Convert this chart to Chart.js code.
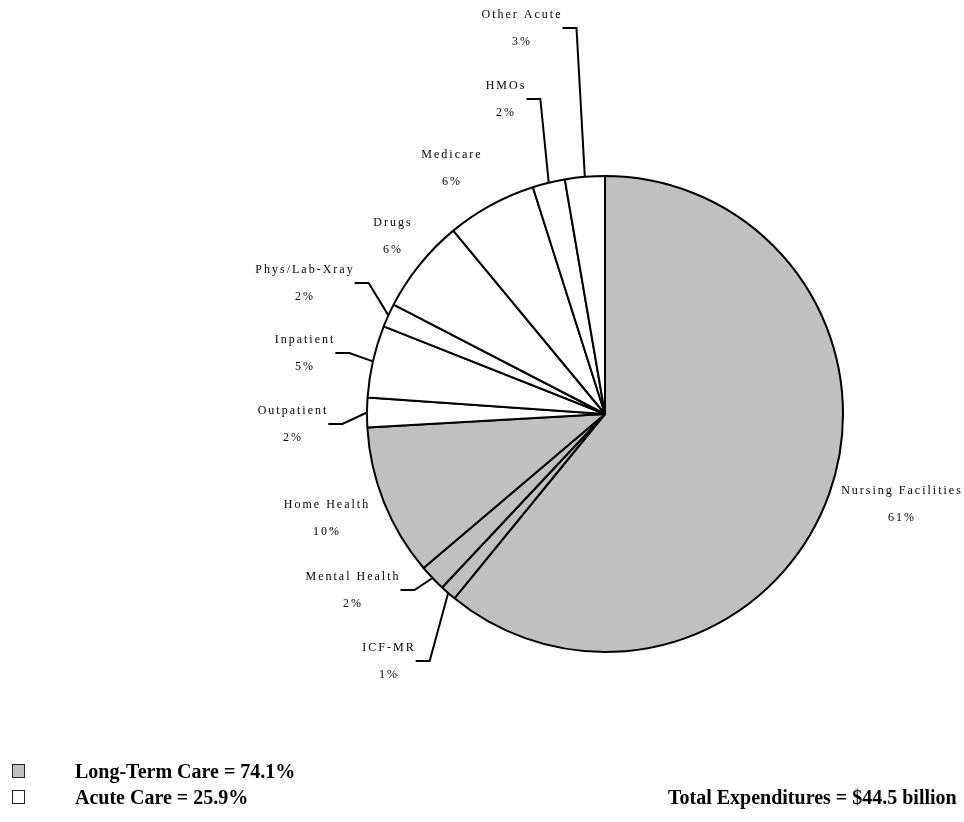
<!DOCTYPE html>
<html>
<head>
<meta charset="utf-8">
<title>Medicaid Expenditures</title>
<script src="https://cdn.jsdelivr.net/npm/chart.js@4.4.0/dist/chart.umd.min.js"></script>
<style>
  html, body { margin: 0; padding: 0; background: #fff; }
  #wrap { position: relative; width: 964px; height: 822px; }
  #pie { position: absolute; left: 0; top: 0; }
  .key { position: absolute; font: bold 20px "Liberation Serif", "Times New Roman", serif; line-height: 22px; color: #000; white-space: nowrap; }
  .swatch { position: absolute; width: 11px; height: 12px; border: 1.5px solid #222; }
</style>
</head>
<body>
<div id="wrap">
  <canvas id="pie" width="964" height="822"></canvas>
</div>
<script>
// slices, clockwise from 12 o'clock
const categories = ['Nursing Facilities', 'ICF-MR', 'Mental Health', 'Home Health', 'Outpatient',
  'Inpatient', 'Phys/Lab-Xray', 'Drugs', 'Medicare', 'HMOs', 'Other Acute'];
const shares = [60.9, 1.1, 1.8, 10.3, 2.0, 4.9, 1.6, 6.4, 6.1, 2.2, 2.7];
const careGroup = ['ltc', 'ltc', 'ltc', 'ltc', 'acute', 'acute', 'acute', 'acute', 'acute', 'acute', 'acute'];

const groupNames = ['Long-Term Care', 'Acute Care'];
const groupShares = [74.1, 25.9];
const totalBillions = 44.5;

// layout only: label centre relative to the pie centre, and whether it gets a leader line
const labelSpots = [[297, 77], [-216, 234], [-252, 163], [-278, 91], [-312, -3], [-300, -74],
  [-300, -144], [-212, -191], [-153, -259], [-99, -328], [-83, -399]];
const hasLeader = [false, true, true, false, true, true, true, false, false, true, true];

const groupFill = { ltc: '#c0c0c0', acute: '#ffffff' };

const sliceLabels = {
  id: 'sliceLabels',
  afterDatasetsDraw(chart) {
    const ctx = chart.ctx;
    const arcs = chart.getDatasetMeta(0).data;
    ctx.save();
    ctx.font = '12px "Liberation Serif", "Times New Roman", serif';
    if ('letterSpacing' in ctx) ctx.letterSpacing = '2px';
    ctx.fillStyle = '#000';
    ctx.strokeStyle = '#000';
    ctx.lineWidth = 2;
    ctx.textAlign = 'center';
    ctx.textBaseline = 'middle';
    arcs.forEach((arc, i) => {
      const p = arc.getProps(['x', 'y', 'startAngle', 'endAngle', 'outerRadius']);
      const tx = p.x + labelSpots[i][0];
      const ty = p.y + labelSpots[i][1];
      ctx.fillText(categories[i], tx, ty);
      ctx.fillText(Math.round(shares[i]) + '%', tx, ty + 27);
      if (hasLeader[i]) {
        const mid = (p.startAngle + p.endAngle) / 2;
        const ax = p.x + Math.cos(mid) * p.outerRadius;
        const ay = p.y + Math.sin(mid) * p.outerRadius;
        const right = tx + ctx.measureText(categories[i]).width / 2;
        ctx.beginPath();
        ctx.moveTo(right, ty + 13);
        ctx.lineTo(right + 14, ty + 13);
        ctx.lineTo(ax, ay);
        ctx.stroke();
      }
    });
    ctx.restore();
  }
};

new Chart(document.getElementById('pie'), {
  type: 'pie',
  data: {
    labels: categories,
    datasets: [{
      data: shares,
      backgroundColor: careGroup.map(g => groupFill[g]),
      borderColor: '#000',
      borderWidth: 2,
      radius: 238
    }]
  },
  options: {
    responsive: false,
    animation: false,
    layout: { padding: { left: 365, right: 119, top: 174, bottom: 168 } },
    plugins: {
      legend: { display: false },
      tooltip: { enabled: false }
    }
  },
  plugins: [sliceLabels]
});

// key at the bottom
const wrap = document.getElementById('wrap');
const keyFill = [groupFill.ltc, groupFill.acute];
groupNames.forEach((name, i) => {
  const sw = document.createElement('div');
  sw.className = 'swatch';
  sw.style.left = '12px';
  sw.style.top = (764 + i * 26) + 'px';
  sw.style.background = keyFill[i];
  wrap.appendChild(sw);
  const t = document.createElement('div');
  t.className = 'key';
  t.style.left = '75px';
  t.style.top = (760 + i * 26) + 'px';
  t.textContent = name + ' = ' + groupShares[i].toFixed(1) + '%';
  wrap.appendChild(t);
});
const total = document.createElement('div');
total.className = 'key';
total.style.left = '668px';
total.style.top = '786px';
total.textContent = 'Total Expenditures = $' + totalBillions.toFixed(1) + ' billion';
wrap.appendChild(total);
</script>
</body>
</html>
